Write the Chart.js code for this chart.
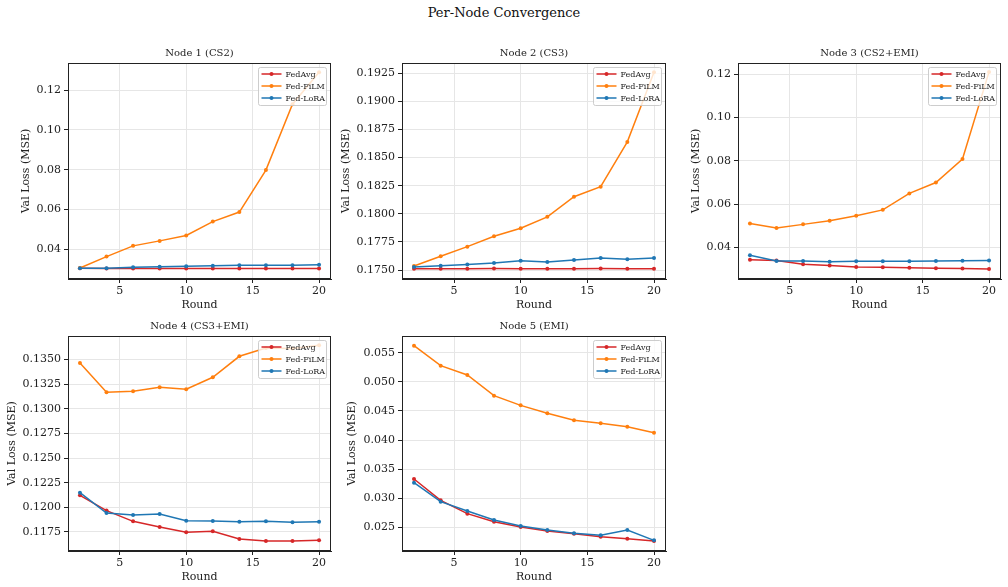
<!DOCTYPE html>
<html><head><meta charset="utf-8">
<script src="https://cdn.jsdelivr.net/npm/chart.js@4.4.1/dist/chart.umd.min.js"></script>
<style>
html,body{margin:0;padding:0;background:#fff;}
body{width:1008px;height:587px;position:relative;overflow:hidden;font-family:"DejaVu Serif",serif;}
#sup{position:absolute;left:0;top:4px;width:1008px;text-align:center;font-size:13px;color:#111;line-height:17px;}
canvas{position:absolute;}
</style></head><body>
<div id="sup">Per-Node Convergence</div>
<script>
// ---------- DATA ----------
const rounds = [2, 4, 6, 8, 10, 12, 14, 16, 18, 20];
const seriesNames = ['FedAvg', 'Fed-FiLM', 'Fed-LoRA'];
const nodeTitles = ['Node 1 (CS2)', 'Node 2 (CS3)', 'Node 3 (CS2+EMI)', 'Node 4 (CS3+EMI)', 'Node 5 (EMI)'];
const xTicks = [5, 10, 15, 20];

const n1FedAvg  = [0.0304, 0.0303, 0.0303, 0.0303, 0.0303, 0.0303, 0.0303, 0.0303, 0.0303, 0.0303];
const n1FedFiLM = [0.0306, 0.0363, 0.0417, 0.0442, 0.0469, 0.0539, 0.0587, 0.0798, 0.1129, 0.1289];
const n1FedLoRA = [0.0304, 0.0305, 0.0309, 0.0312, 0.0315, 0.0317, 0.0319, 0.0320, 0.0320, 0.0322];

const n2FedAvg  = [0.17512, 0.17512, 0.17512, 0.17514, 0.17512, 0.17512, 0.17512, 0.17514, 0.17511, 0.17512];
const n2FedFiLM = [0.17536, 0.17622, 0.17708, 0.17801, 0.17872, 0.17973, 0.18152, 0.18241, 0.18640, 0.19259];
const n2FedLoRA = [0.17527, 0.17539, 0.17548, 0.17562, 0.17583, 0.17571, 0.17589, 0.17607, 0.17595, 0.17607];

const n3FedAvg  = [0.0344, 0.0340, 0.0323, 0.0317, 0.0310, 0.0309, 0.0307, 0.0304, 0.0303, 0.0301];
const n3FedFiLM = [0.0511, 0.0490, 0.0507, 0.0524, 0.0547, 0.0574, 0.0650, 0.0700, 0.0809, 0.1211];
const n3FedLoRA = [0.0364, 0.0338, 0.0338, 0.0335, 0.0337, 0.0337, 0.0337, 0.0338, 0.0339, 0.0340];

const n4FedAvg  = [0.12122, 0.11967, 0.11858, 0.11801, 0.11747, 0.11757, 0.11679, 0.11659, 0.11659, 0.11665];
const n4FedFiLM = [0.13466, 0.13168, 0.13178, 0.13219, 0.13199, 0.13321, 0.13534, 0.13618, 0.13612, 0.13646];
const n4FedLoRA = [0.12149, 0.11943, 0.11923, 0.11933, 0.11865, 0.11862, 0.11855, 0.11858, 0.11848, 0.11855];

const n5FedAvg  = [0.03330, 0.02964, 0.02735, 0.02597, 0.02506, 0.02437, 0.02391, 0.02340, 0.02305, 0.02265];
const n5FedFiLM = [0.05620, 0.05277, 0.05116, 0.04761, 0.04595, 0.04458, 0.04338, 0.04286, 0.04229, 0.04126];
const n5FedLoRA = [0.03267, 0.02941, 0.02781, 0.02626, 0.02523, 0.02454, 0.02397, 0.02363, 0.02454, 0.02277];

const n1YTicks = [0.04, 0.06, 0.08, 0.10, 0.12];
const n2YTicks = [0.1750, 0.1775, 0.1800, 0.1825, 0.1850, 0.1875, 0.1900, 0.1925];
const n3YTicks = [0.04, 0.06, 0.08, 0.10, 0.12];
const n4YTicks = [0.1175, 0.1200, 0.1225, 0.1250, 0.1275, 0.1300, 0.1325, 0.1350];
const n5YTicks = [0.025, 0.030, 0.035, 0.040, 0.045, 0.050, 0.055];

const n1YRange = [0.02504, 0.1336];
const n2YRange = [0.17420, 0.19342];
const n3YRange = [0.02548, 0.1252];
const n4YRange = [0.11557, 0.13740];
const n5YRange = [0.02094, 0.05786];
const xRange = [1.1, 20.9];

// ---------- STYLE / LAYOUT ----------
const colors = ['#d62728', '#ff7f0e', '#1f77b4'];
const FONT = '"DejaVu Serif", serif';
Chart.defaults.font.family = FONT;
Chart.defaults.color = '#222';

const framePlugin = {
  id: 'frameAndLegend',
  afterDatasetsDraw(chart) {
    const {ctx, chartArea: a} = chart;
    ctx.save();
    ctx.strokeStyle = '#222';
    ctx.lineWidth = 1;
    ctx.strokeRect(Math.round(a.left) + 0.5, Math.round(a.top) + 0.5, Math.round(a.right - a.left) - 1, Math.round(a.bottom - a.top) - 1);
    // legend
    const w = 68, h = 38;
    const x = Math.round(a.right - 5 - w) + 0.5, y = Math.round(a.top + 4) + 0.5;
    ctx.beginPath();
    const r = 2;
    ctx.moveTo(x + r, y); ctx.lineTo(x + w - r, y); ctx.quadraticCurveTo(x + w, y, x + w, y + r);
    ctx.lineTo(x + w, y + h - r); ctx.quadraticCurveTo(x + w, y + h, x + w - r, y + h);
    ctx.lineTo(x + r, y + h); ctx.quadraticCurveTo(x, y + h, x, y + h - r);
    ctx.lineTo(x, y + r); ctx.quadraticCurveTo(x, y, x + r, y);
    ctx.closePath();
    ctx.fillStyle = 'rgba(255,255,255,0.8)';
    ctx.fill();
    ctx.strokeStyle = 'rgba(200,200,200,0.9)';
    ctx.stroke();
    chart.data.datasets.forEach((ds, i) => {
      const cy = y + 6.5 + i * 12;
      ctx.strokeStyle = ds.borderColor;
      ctx.lineWidth = 1.5;
      ctx.beginPath(); ctx.moveTo(x + 3, cy); ctx.lineTo(x + 23, cy); ctx.stroke();
      ctx.fillStyle = ds.borderColor;
      ctx.beginPath(); ctx.arc(x + 13, cy, 2, 0, Math.PI * 2); ctx.fill();
      ctx.fillStyle = '#222';
      ctx.font = '8px ' + FONT;
      ctx.textBaseline = 'middle';
      ctx.textAlign = 'left';
      ctx.fillText(ds.label, x + 27, cy + 0.5);
    });
    // subplot title
    ctx.font = '10px ' + FONT;
    ctx.fillStyle = '#222';
    ctx.textAlign = 'center';
    ctx.textBaseline = 'middle';
    ctx.fillText(chart.options.plugins.frameAndLegend.title, (a.left + a.right) / 2, a.top - 9.5);
    ctx.restore();
  }
};

function makeChart(plot, title, series, yRange, yTicks, dec) {
  const lineH = 11 * 1.2;
  const cLeft = Math.round(plot.yTitleX - lineH / 2);
  const cTop = plot.top - 30;
  const cBottom = Math.round(plot.xTitleY + lineH / 2);
  const cRight = plot.right + 4;
  const cv = document.createElement('canvas');
  cv.width = cRight - cLeft; cv.height = cBottom - cTop;
  cv.style.left = cLeft + 'px'; cv.style.top = cTop + 'px';
  cv.style.width = cv.width + 'px'; cv.style.height = cv.height + 'px';
  document.body.appendChild(cv);
  const yW = plot.left - cLeft, xH = cBottom - plot.bottom;
  const datasets = series.map((vals, i) => ({
    label: seriesNames[i],
    data: rounds.map((r, j) => ({x: r, y: vals[j]})),
    borderColor: colors[i], backgroundColor: colors[i],
    pointBackgroundColor: colors[i], pointBorderWidth: 0,
    pointRadius: 2, pointHoverRadius: 2,
    borderWidth: 1.5, tension: 0, order: 3 - i
  }));
  new Chart(cv, {
    type: 'line',
    data: {datasets},
    options: {
      responsive: false, animation: false, events: [],
      layout: {padding: {top: 30, right: 4, left: 0, bottom: 0}},
      plugins: {legend: {display: false}, tooltip: {enabled: false}, frameAndLegend: {title}},
      scales: {
        x: {
          type: 'linear', min: xRange[0], max: xRange[1],
          afterBuildTicks: s => { s.ticks = xTicks.map(v => ({value: v})); },
          afterFit: s => { s.height = xH; },
          ticks: {font: {size: 11}, color: '#222', padding: 2, maxRotation: 0, callback: v => String(v)},
          grid: {color: '#e6e6e6', lineWidth: 1, tickLength: 4, tickColor: '#222', drawTicks: true},
          border: {color: '#222', width: 1},
          title: {display: true, text: 'Round', font: {size: 11}, color: '#222', padding: 0}
        },
        y: {
          type: 'linear', min: yRange[0], max: yRange[1],
          afterBuildTicks: s => { s.ticks = yTicks.map(v => ({value: v})); },
          afterFit: s => { s.width = yW; },
          ticks: {font: {size: 11}, color: '#222', padding: 3, callback: v => Number(v).toFixed(dec)},
          grid: {color: '#e6e6e6', lineWidth: 1, tickLength: 4, tickColor: '#222', drawTicks: true},
          border: {color: '#222', width: 1},
          title: {display: true, text: 'Val Loss (MSE)', font: {size: 11}, color: '#222', padding: 0}
        }
      }
    },
    plugins: [framePlugin]
  });
}

makeChart({left: 68, right: 331, top: 63, bottom: 279, yTitleX: 27, xTitleY: 305}, nodeTitles[0],
  [n1FedAvg, n1FedFiLM, n1FedLoRA], n1YRange, n1YTicks, 2);
makeChart({left: 402, right: 666, top: 63, bottom: 279, yTitleX: 347, xTitleY: 305}, nodeTitles[1],
  [n2FedAvg, n2FedFiLM, n2FedLoRA], n2YRange, n2YTicks, 4);
makeChart({left: 738, right: 1001, top: 63, bottom: 279, yTitleX: 697, xTitleY: 305}, nodeTitles[2],
  [n3FedAvg, n3FedFiLM, n3FedLoRA], n3YRange, n3YTicks, 2);
makeChart({left: 68, right: 331, top: 336, bottom: 551, yTitleX: 13, xTitleY: 577}, nodeTitles[3],
  [n4FedAvg, n4FedFiLM, n4FedLoRA], n4YRange, n4YTicks, 4);
makeChart({left: 402, right: 666, top: 336, bottom: 551, yTitleX: 353, xTitleY: 577}, nodeTitles[4],
  [n5FedAvg, n5FedFiLM, n5FedLoRA], n5YRange, n5YTicks, 3);
</script>
</body></html>
